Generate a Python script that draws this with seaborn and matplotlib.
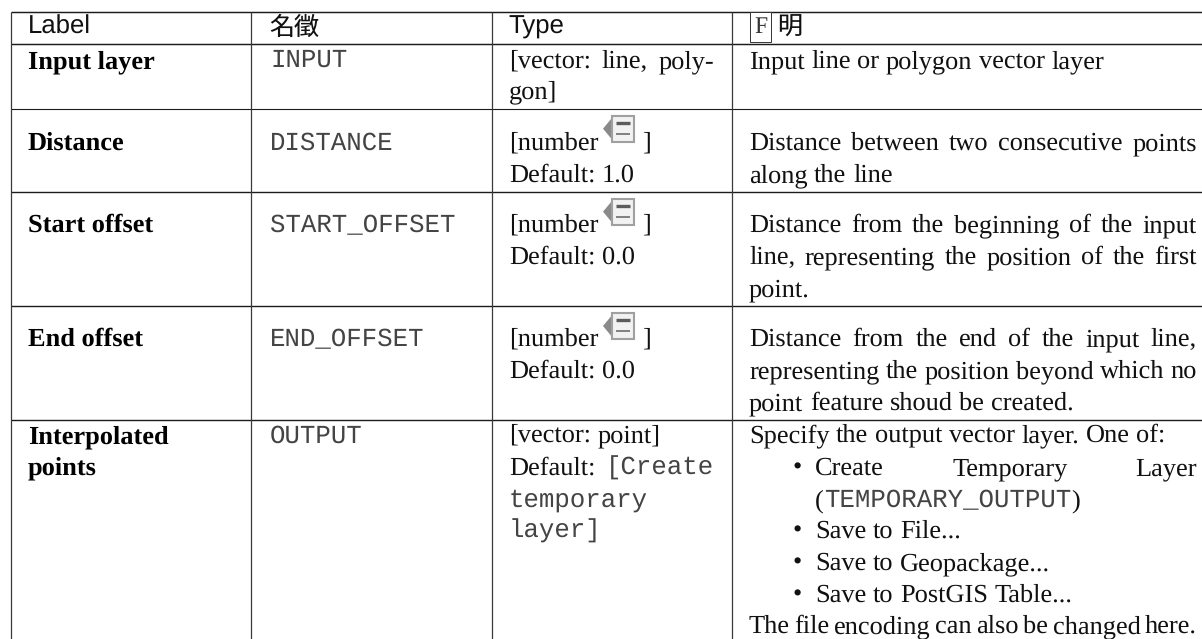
import matplotlib
matplotlib.use('Agg')
import matplotlib.pyplot as plt
from matplotlib.patches import Polygon, Rectangle
import seaborn as sns

# table content
headers = ['Label', '名徵', 'Type']
labels = [['Input layer'], ['Distance'], ['Start offset'], ['End offset'], ['Interpolated', 'points']]
names = ['INPUT', 'DISTANCE', 'START_OFFSET', 'END_OFFSET', 'OUTPUT']
label_rows = [[68, 98], [150], [232], [346], [443, 474]]
name_rows = [67, 150, 232, 346, 443]

# grid, in picture pixels
col_edges = [10.7, 250.7, 491.7, 732]
row_edges = [11.7, 44, 108.7, 191.7, 306, 420]
row_widths = [1.05, 1.05, 0.8, 1.0, 1.0, 1.0]

SERIF = 'Liberation Serif'
MONO = 'Liberation Mono'
BODY = 19
MONO_SIZE = 18.5
INK = '#111111'

sns.set_theme(style='white')
plt.rcParams['text.hinting'] = 'none'
fig = plt.figure(figsize=(12.02, 6.39), dpi=100)
ax = fig.add_axes([0, 0, 1, 1])
ax.set_xlim(0, 1202)
ax.set_ylim(639, 0)
ax.axis('off')
renderer = fig.canvas.get_renderer()


def font(kind):
    if kind == 'm':
        return dict(family=MONO, fontsize=MONO_SIZE, color='#444444')
    return dict(family=SERIF, fontsize=BODY, color=INK)


def runs(x, y, parts, right=None):
    # parts = [(text, 's' or 'm'), ...]; split on words, spread out when right is given
    words = []
    for text, kind in parts:
        pieces = text.split(' ')
        for i, w in enumerate(pieces):
            if w:
                words.append((w, kind, i > 0))
    arts = [ax.text(0, y, w, va='baseline', ha='left', **font(k)) for w, k, _ in words]
    widths = [a.get_window_extent(renderer).width for a in arts]
    gaps = [g for _, _, g in words]
    n_gaps = sum(gaps[1:])
    space = BODY * 100 / 72 * 0.25
    if right is not None and n_gaps:
        space = (right - x - sum(widths)) / n_gaps
    cur = x
    for a, wd, g in zip(arts, widths, gaps):
        if g and a is not arts[0]:
            cur += space
        a.set_x(cur)
        cur += wd
    return cur


def icon(x, top):
    # the little "data defined" symbol next to [number ]
    ax.add_patch(Polygon([[x, top + 14], [x + 10, top + 2], [x + 10, top + 26]], closed=True,
                         fc='#8a8a8a', ec='none'))
    ax.add_patch(Rectangle((x + 9, top + 1), 22, 26, fc='#f2f2f2', ec='#a0a0a0', lw=1.5))
    ax.hlines(top + 8, x + 13, x + 27, color='#5c5c5c', lw=2.4)
    ax.hlines(top + 19, x + 13, x + 27, color='#808080', lw=1.4)


def number_cell(row_top, base, default):
    runs(509, base, [('[number', 's')])
    icon(603, row_top + 6)
    ax.text(642, base, ']', va='baseline', ha='left', **font('s'))
    runs(509, base + 32, [('Default: ' + default, 's')])


# rules
for y, lw in zip(row_edges, row_widths):
    ax.hlines(y, col_edges[0], 1202, color='#1c1c1c', lw=lw)
for x in col_edges:
    ax.vlines(x, row_edges[0], 639, color='#3a3a3a', lw=0.9)

# header
ax.text(28, 34, headers[0], family='Liberation Sans', fontsize=18.5, color=INK, va='baseline')
ax.text(269, 35, headers[1], family='Noto Sans CJK TC', fontsize=18, color=INK, va='baseline')
ax.text(508, 34, headers[2], family='Liberation Sans', fontsize=18.5, color=INK, va='baseline')
ax.text(754, 33, 'F', family=SERIF, fontsize=17, color='#333333', va='baseline',
        bbox=dict(boxstyle='square,pad=0.18', fc='white', ec='#333333', lw=0.7))
ax.text(777, 35, '明', family='Noto Sans CJK TC', fontsize=18, color=INK, va='baseline')

# label and name columns
for lines, ys in zip(labels, label_rows):
    for line, y in zip(lines, ys):
        ax.text(27.7, y, line, family=SERIF, fontweight='bold', fontsize=BODY, color='black', va='baseline')
for name, y in zip(names, name_rows):
    ax.text(270, y, name, va='baseline', **font('m'))

# type column
runs(509, 68, [('[vector: line, poly-', 's')], right=714)
runs(509, 98, [('gon]', 's')])
number_cell(108.7, 150, '1.0')
number_cell(191.7, 232, '0.0')
number_cell(306, 346, '0.0')
runs(509, 442, [('[vector: point]', 's')])
runs(509, 475, [('Default:', 's'), (' [Create', 'm')], right=714)
runs(509, 507, [('temporary', 'm')])
runs(509, 538, [('layer]', 'm')])

# description column
DX = 749
DR = 1197
runs(DX, 68, [('Input line or polygon vector layer', 's')])
runs(DX, 150, [('Distance between two consecutive points', 's')], right=DR)
runs(DX, 182, [('along the line', 's')])
runs(DX, 232, [('Distance from the beginning of the input', 's')], right=DR)
runs(DX, 264, [('line, representing the position of the first', 's')], right=DR)
runs(DX, 296, [('point.', 's')])
runs(DX, 346, [('Distance from the end of the input line,', 's')], right=DR)
runs(DX, 378, [('representing the position beyond which no', 's')], right=DR)
runs(DX, 410, [('point feature shoud be created.', 's')])
runs(DX, 442, [('Specify the output vector layer. One of:', 's')])

BX = 815
bullets = [475, 538, 570, 602]
for y in bullets:
    ax.text(793, y, '•', va='baseline', **font('s'))
runs(BX, 475, [('Create Temporary Layer', 's')], right=DR)
end = runs(BX, 507, [('(', 's')])
end = runs(end, 507, [('TEMPORARY_OUTPUT', 'm')])
runs(end, 507, [(')', 's')])
runs(BX, 538, [('Save to File...', 's')])
runs(BX, 570, [('Save to Geopackage...', 's')])
runs(BX, 602, [('Save to PostGIS Table...', 's')])
runs(DX, 633, [('The file encoding can also be changed here.', 's')], right=DR)

sns.despine(ax=ax, left=True, bottom=True)
plt.savefig('out.png', dpi=100)
